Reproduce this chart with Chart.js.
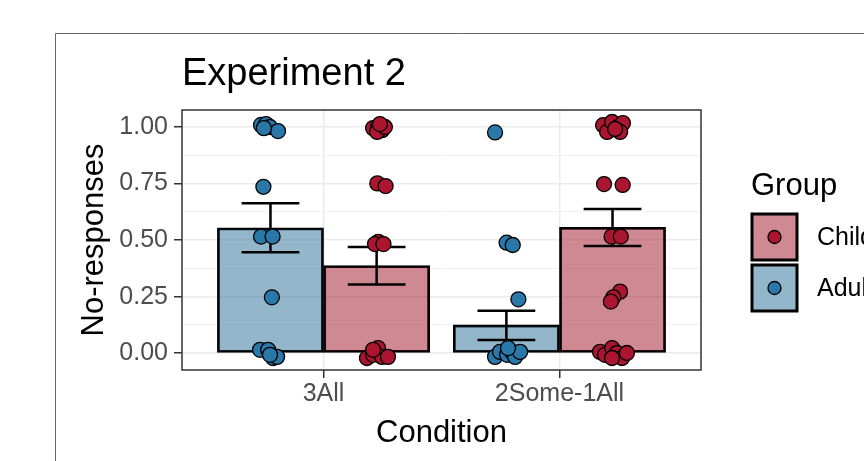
<!DOCTYPE html>
<html>
<head>
<meta charset="utf-8">
<script src="https://cdn.jsdelivr.net/npm/chart.js@4"></script>
<style>
  html, body { margin: 0; padding: 0; background: #fff; }
  #wrap { width: 864px; height: 461px; }
</style>
</head>
<body>
<div id="wrap"><canvas id="expChart" width="864" height="461"></canvas></div>
<script>
// Experiment 2: no-responses by condition and group

const conditions = ["3All", "2Some-1All"];
const conditionPos = [1, 2];
const dodge = 0.225;

const yMajor = [0, 0.25, 0.5, 0.75, 1];
const yMinor = [0.125, 0.375, 0.625, 0.875];

// bar means and standard error limits, one value per condition
const adultMean = [0.554, 0.125];
const adultLow = [0.446, 0.059];
const adultHigh = [0.662, 0.188];

const childMean = [0.387, 0.556];
const childLow = [0.304, 0.474];
const childHigh = [0.469, 0.637];

// jittered participant points (x on the condition axis, y = proportion)
const adultX = [
  0.735, 0.756, 0.773, 0.807, 0.747, 0.745, 0.735, 0.784, 0.781,
  0.731, 0.765, 0.786, 0.803, 0.773,
  1.727, 1.776, 1.802, 1.826,
  1.727, 1.748, 1.778, 1.799, 1.812, 1.833, 1.782,
];
const adultY = [
  1.008, 1.012, 0.999, 0.981, 0.994, 0.735, 0.515, 0.515, 0.247,
  0.015, 0.015, -0.021, -0.016, -0.007,
  0.975, 0.488, 0.478, 0.238,
  -0.016, 0.006, -0.007, 0.006, -0.016, 0.006, 0.023,
];

const childX = [
  1.21, 1.231, 1.248, 1.227, 1.26, 1.239, 1.228, 1.263, 1.232, 1.218, 1.254,
  1.184, 1.21, 1.231, 1.248, 1.273, 1.21,
  2.185, 2.202, 2.223, 2.248, 2.269, 2.257, 2.236, 2.189, 2.268,
  2.221, 2.26, 2.257, 2.228, 2.218,
  2.172, 2.193, 2.223, 2.244, 2.265, 2.223, 2.286,
];
const childY = [
  0.994, 0.999, 0.985, 0.977, 0.999, 1.012, 0.75, 0.738, 0.492, 0.482, 0.482,
  -0.021, -0.007, 0.023, -0.016, -0.016, 0.015,
  1.007, 0.977, 1.021, 0.999, 1.016, 0.977, 0.99, 0.747, 0.743,
  0.515, 0.515, 0.272, 0.247, 0.228,
  0.006, -0.007, 0.023, 0.001, -0.021, -0.021, 0.001,
];

const blueFill = "rgba(40, 110, 150, 0.5)";
const redFill = "rgba(160, 20, 40, 0.5)";
const bluePoint = "#2A78A9";
const redPoint = "#AB152F";
const FONT = "'Liberation Sans', Arial, Helvetica, sans-serif";

Chart.defaults.font.family = FONT;

const toXY = (xs, ys) => xs.map((x, i) => ({ x: x, y: ys[i] }));
const barXY = (means, offset) =>
  means.map((m, i) => ({ x: conditionPos[i] + offset, y: m }));

// error bars, drawn after the bars and before the points
const errorBars = {
  id: "errorBars",
  afterDatasetDraw(chart, args) {
    if (args.index !== 1) return;
    const ctx = chart.ctx;
    const xs = chart.scales.x;
    const ys = chart.scales.y;
    const cap = 0.1225;
    const groups = [
      { off: -dodge, lo: adultLow, hi: adultHigh },
      { off: dodge, lo: childLow, hi: childHigh },
    ];
    ctx.save();
    ctx.strokeStyle = "#000";
    ctx.lineWidth = 2.5;
    groups.forEach((g) => {
      conditionPos.forEach((c, i) => {
        const xc = xs.getPixelForValue(c + g.off);
        const x0 = xs.getPixelForValue(c + g.off - cap);
        const x1 = xs.getPixelForValue(c + g.off + cap);
        const yl = ys.getPixelForValue(g.lo[i]);
        const yh = ys.getPixelForValue(g.hi[i]);
        ctx.beginPath();
        ctx.moveTo(x0, yh);
        ctx.lineTo(x1, yh);
        ctx.moveTo(xc, yh);
        ctx.lineTo(xc, yl);
        ctx.moveTo(x0, yl);
        ctx.lineTo(x1, yl);
        ctx.stroke();
      });
    });
    ctx.restore();
  },
};

// page frame, titles, panel border and the legend
const decorations = {
  id: "decorations",
  beforeDraw(chart) {
    const ctx = chart.ctx;
    ctx.save();
    ctx.fillStyle = "#fff";
    ctx.fillRect(0, 0, chart.width, chart.height);
    ctx.strokeStyle = "#666";
    ctx.lineWidth = 1;
    ctx.beginPath();
    ctx.moveTo(55.5, chart.height);
    ctx.lineTo(55.5, 33.5);
    ctx.lineTo(chart.width, 33.5);
    ctx.stroke();
    ctx.restore();
  },
  afterDraw(chart) {
    const ctx = chart.ctx;
    const area = chart.chartArea;
    ctx.save();
    ctx.strokeStyle = "#333";
    ctx.lineWidth = 1.5;
    ctx.strokeRect(area.left, area.top, area.right - area.left, area.bottom - area.top);

    ctx.fillStyle = "#000";
    ctx.textBaseline = "alphabetic";
    ctx.textAlign = "left";
    ctx.font = "38px " + FONT;
    ctx.fillText("Experiment 2", area.left, 85);

    ctx.font = "31px " + FONT;
    ctx.textAlign = "center";
    ctx.fillText("Condition", (area.left + area.right) / 2, 442);

    ctx.save();
    ctx.translate(103, (area.top + area.bottom) / 2);
    ctx.rotate(-Math.PI / 2);
    ctx.fillText("No-responses", 0, 0);
    ctx.restore();

    // legend
    ctx.textAlign = "left";
    ctx.fillText("Group", 751, 195);
    const keys = [
      { label: "Child", fill: redFill, point: redPoint, top: 214 },
      { label: "Adult", fill: blueFill, point: bluePoint, top: 265 },
    ];
    keys.forEach((k) => {
      ctx.fillStyle = "#fff";
      ctx.fillRect(752, k.top, 45, 46);
      ctx.fillStyle = k.fill;
      ctx.fillRect(752, k.top, 45, 46);
      ctx.strokeStyle = "#000";
      ctx.lineWidth = 3;
      ctx.strokeRect(752, k.top, 45, 46);
      ctx.beginPath();
      ctx.arc(774.5, k.top + 23, 6.5, 0, Math.PI * 2);
      ctx.fillStyle = k.point;
      ctx.fill();
      ctx.lineWidth = 1.3;
      ctx.stroke();
      ctx.fillStyle = "#000";
      ctx.font = "25px " + FONT;
      ctx.textBaseline = "middle";
      ctx.fillText(k.label, 817, k.top + 24);
    });
    ctx.restore();
  },
};

const expChart = document.getElementById("expChart").getContext("2d");

new Chart(expChart, {
  type: "bar",
  data: {
    datasets: [
      {
        label: "Adult",
        data: barXY(adultMean, -dodge),
        backgroundColor: blueFill,
        borderColor: "#000",
        borderWidth: 2.2,
        borderSkipped: false,
        grouped: false,
        barPercentage: 1,
        categoryPercentage: 1,
        order: 4,
      },
      {
        label: "Child",
        data: barXY(childMean, dodge),
        backgroundColor: redFill,
        borderColor: "#000",
        borderWidth: 2.2,
        borderSkipped: false,
        grouped: false,
        barPercentage: 1,
        categoryPercentage: 1,
        order: 3,
      },
      {
        type: "scatter",
        label: "Adult points",
        data: toXY(adultX, adultY),
        backgroundColor: bluePoint,
        borderColor: "#000",
        borderWidth: 1.3,
        pointRadius: 7.5,
        order: 2,
      },
      {
        type: "scatter",
        label: "Child points",
        data: toXY(childX, childY),
        backgroundColor: redPoint,
        borderColor: "#000",
        borderWidth: 1.3,
        pointRadius: 7.5,
        order: 1,
      },
    ],
  },
  options: {
    responsive: false,
    animation: false,
    layout: {
      padding: { top: 110, right: 163, bottom: 0, left: 0 },
    },
    plugins: {
      legend: { display: false },
      title: { display: false },
      tooltip: { enabled: false },
    },
    scales: {
      x: {
        type: "linear",
        min: 0.4,
        max: 2.6,
        offset: false,
        afterBuildTicks: (scale) => {
          scale.ticks = conditionPos.map((v) => ({ value: v }));
        },
        afterFit: (scale) => {
          scale.height = 91;
        },
        ticks: {
          autoSkip: false,
          maxRotation: 0,
          padding: 1,
          color: "#4D4D4D",
          font: { size: 25 },
          callback: (value, index) => conditions[index],
        },
        grid: {
          offset: false,
          color: "#EBEBEB",
          lineWidth: 1.5,
          tickColor: "#333",
          tickLength: 8,
          tickWidth: 1.5,
        },
        border: { display: false },
      },
      y: {
        type: "linear",
        min: -0.074,
        max: 1.074,
        afterBuildTicks: (scale) => {
          scale.ticks = yMajor
            .concat(yMinor)
            .sort((a, b) => a - b)
            .map((v) => ({ value: v }));
        },
        afterFit: (scale) => {
          scale.width = 182;
        },
        ticks: {
          autoSkip: false,
          padding: 6,
          color: "#4D4D4D",
          font: { size: 25 },
          callback: (value) => (yMajor.includes(value) ? value.toFixed(2) : ""),
        },
        grid: {
          color: (c) => (yMajor.includes(c.tick.value) ? "#EBEBEB" : "#F2F2F2"),
          lineWidth: (c) => (yMajor.includes(c.tick.value) ? 1.5 : 1),
          tickColor: (c) => (yMajor.includes(c.tick.value) ? "#333" : "rgba(0,0,0,0)"),
          tickLength: 8,
          tickWidth: 1.5,
        },
        border: { display: false },
      },
    },
  },
  plugins: [errorBars, decorations],
});
</script>
</body>
</html>
